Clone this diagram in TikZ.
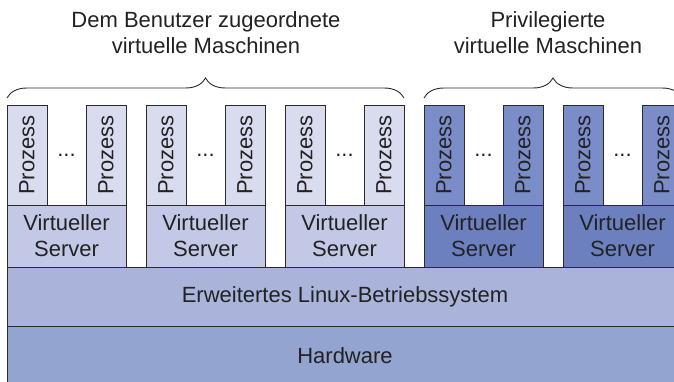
\documentclass[tikz,border=0pt]{standalone}
\usepackage{fontspec}
\setmainfont{Liberation Sans}
\usetikzlibrary{decorations.pathreplacing}
\definecolor{linie}{HTML}{2B2B2B}
\definecolor{schrift}{HTML}{222222}
\definecolor{nutzproz}{HTML}{D9DCEF}
\definecolor{nutzserv}{HTML}{C3C8E6}
\definecolor{privproz}{HTML}{7B8DC8}
\definecolor{privserv}{HTML}{6C80C0}
\definecolor{bs}{HTML}{AAB4DB}
\definecolor{hw}{HTML}{94A4D1}
\tikzset{box/.style={draw=linie, line width=0.9pt, inner sep=0pt, outer sep=0pt,
        text=schrift, font=\fontsize{22}{26}\selectfont},
    proz/.style={box, rotate=90, minimum width=100pt, minimum height=40pt},
    serv/.style={box, align=center, minimum width=119pt, minimum height=62pt},
    schicht/.style={box, anchor=south west, minimum width=676pt},
    punkte/.style={inner sep=0pt, text=schrift, font=\fontsize{22}{26}\selectfont},
    kopf/.style={align=center, text=schrift, font=\fontsize{22}{26}\selectfont},
    klammer/.style={decorate, decoration={brace, amplitude=20pt}, draw=linie, line width=0.9pt},
    }

\begin{document}
\begin{tikzpicture}[x=1pt,y=1pt]
	\useasboundingbox (0,0) rectangle (674,381);
	\clip (0,0) rectangle (674,381);
	% Schichten
	\node[schicht, fill=hw, minimum height=60pt] (hw) at (7,-5) {Hardware};
	\node[schicht, fill=bs, minimum height=59pt] (bs) at (7,55) {Erweitertes Linux-Betriebssystem};
	% virtuelle Server mit Prozessen
	\foreach \x/\sf/\pf [count=\i] in {7/nutzserv/nutzproz, 146/nutzserv/nutzproz,
		285/nutzserv/nutzproz, 424/privserv/privproz, 563/privserv/privproz}{
		\node[serv, fill=\sf, anchor=south west] (s\i) at (\x,114) {Virtueller\\Server};
		\node[proz, fill=\pf, anchor=north west] (p\i-a) at (s\i.north west) {Prozess};
		\node[proz, fill=\pf, anchor=south west] (p\i-b) at (s\i.north east) {Prozess};
		\path (p\i-a) -- node[punkte] (d\i) {...} (p\i-b);
	}
	% Klammern
	\draw[klammer] ([yshift=7pt]p1-a.north east) -- ([yshift=7pt]p3-b.south east);
	\draw[klammer] ([yshift=7pt]p4-a.north east) -- ([yshift=7pt]p5-b.south east);
	\node[kopf] (nutzer) at (206,348) {Dem Benutzer zugeordnete\\virtuelle Maschinen};
	\node[kopf] (priv) at (548,348) {Privilegierte\\virtuelle Maschinen};
\end{tikzpicture}
\end{document}
